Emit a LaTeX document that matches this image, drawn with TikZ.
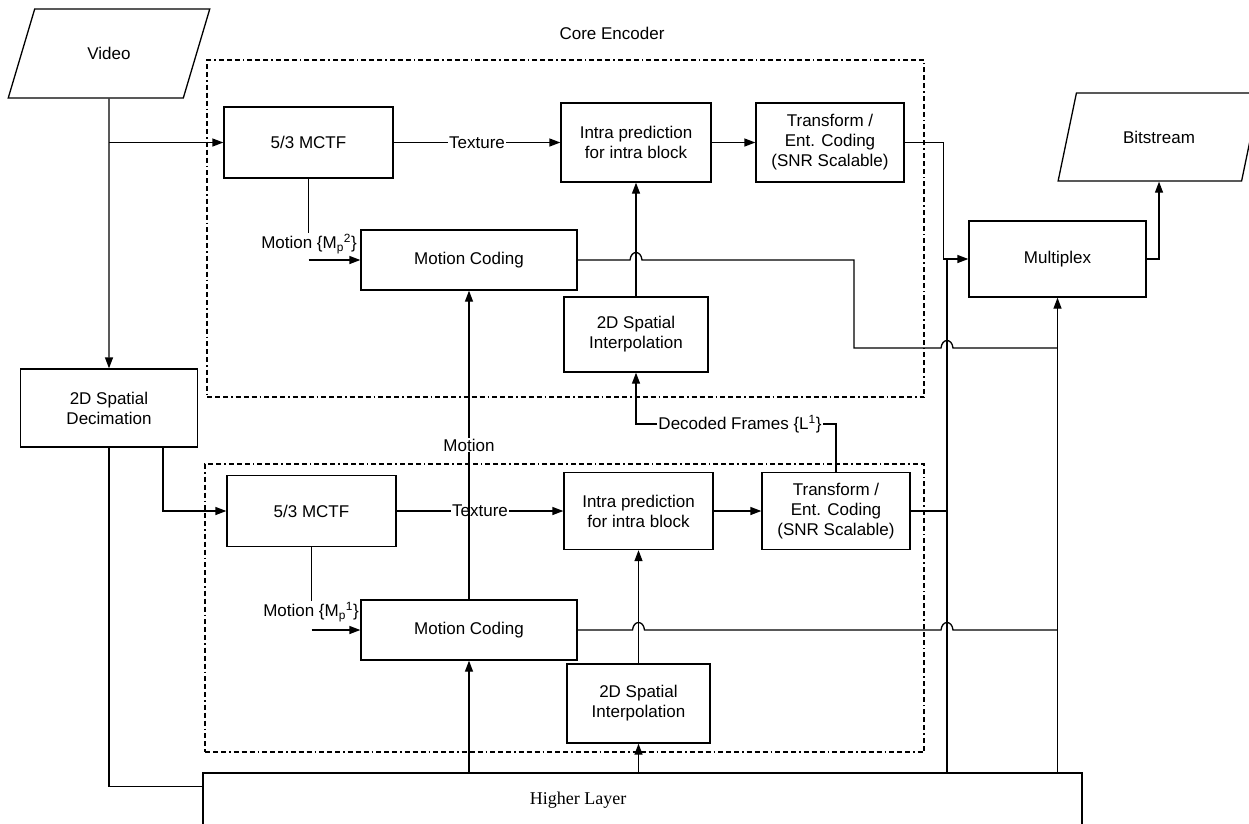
\documentclass[tikz,border=0pt]{standalone}
\usepackage{fontspec}
\setmainfont{Liberation Sans}
\newfontfamily\hlfont{Liberation Serif}
\usetikzlibrary{arrows.meta,positioning,calc,shapes.geometric}
% small bump where a line crosses another
\newcommand{\hop}[2]{-- ({#1-6},#2) .. controls ({#1-5},{#2-10}) and ({#1+5},{#2-10}) .. ({#1+6},#2)}
\tikzset{
  box/.style    = {draw, line width=1.3pt, align=center, inner sep=2pt,
                   font=\fontsize{17}{20}\selectfont},
  io/.style     = {box, trapezium, trapezium left angle=63, trapezium right angle=117,
                   trapezium stretches=true},
  encbox/.style = {draw, line width=1.2pt,
                   dash pattern=on 5pt off 3pt on 5pt off 3pt on 5pt off 3pt on 1.5pt off 3pt},
  ar/.style     = {-{Triangle[length=11pt,width=8pt]}, line width=1.3pt},
  ln/.style     = {line width=1.3pt},
  lbl/.style    = {font=\fontsize{17}{20}\selectfont, fill=white, inner sep=1pt},
}
\begin{document}
\begin{tikzpicture}[x=1pt, y=-1pt]
  \useasboundingbox (0,0) rectangle (1249,823);
  \clip (0,0) rectangle (1249,823);

  % encoder frames
  \node[encbox, minimum width=717pt, minimum height=337pt] (coreA) at (565.5,228.5) {};
  \node[encbox, minimum width=719pt, minimum height=288pt] (coreB) at (564.5,608) {};
  \node[font=\fontsize{17}{20}\selectfont] (coreLbl) at (612,33) {Core Encoder};

  % input / output
  \node[io, minimum width=202pt, minimum height=89pt] (video) at (109,53.5) {Video};
  \node[io, minimum width=202pt, minimum height=88pt] (bits) at (1159,137) {Bitstream};
  \node[box, minimum width=177pt, minimum height=78pt] (decim) at (109,408) {2D Spatial\\Decimation};
  \node[box, minimum width=177pt, minimum height=76pt] (mux) at (1057.5,259) {Multiplex};

  % upper layer
  \node[box, minimum width=169pt, minimum height=71pt] (mctfA) at (308.5,142.5) {5/3 MCTF};
  \node[box, minimum width=150pt, minimum height=79pt] (intraA) at (636,142.5) {Intra prediction\\for intra block};
  \node[box, minimum width=148pt, minimum height=79pt] (transA) at (830,142.5) {Transform /\\Ent. Coding\\(SNR Scalable)};
  \node[box, minimum width=216pt, minimum height=60pt] (mcA) at (469,260) {Motion Coding};
  \node[box, minimum width=144pt, minimum height=75pt] (intpA) at (636,334.5) {2D Spatial\\Interpolation};

  % lower layer
  \node[box, minimum width=169pt, minimum height=71pt] (mctfB) at (311.5,511) {5/3 MCTF};
  \node[box, minimum width=149pt, minimum height=77pt] (intraB) at (638.5,511) {Intra prediction\\for intra block};
  \node[box, minimum width=148pt, minimum height=77pt] (transB) at (836,511) {Transform /\\Ent. Coding\\(SNR Scalable)};
  \node[box, minimum width=216pt, minimum height=60pt] (mcB) at (469,630) {Motion Coding};
  \node[box, minimum width=143pt, minimum height=79pt] (intpB) at (638.5,703.5) {2D Spatial\\Interpolation};

  \node[box, minimum width=879pt, minimum height=67pt] (higher) at (642.5,806.5) {};
  \node[font=\hlfont\fontsize{18}{20}\selectfont] (hlTxt) at (578,800) {Higher Layer};

  \node[lbl, fill=none] (mvA) at (309,244) {Motion \{M\textsubscript{p}\textsuperscript{2}\}};
  \node[lbl, fill=none] (mvB) at (311,612) {Motion \{M\textsubscript{p}\textsuperscript{1}\}};

  \coordinate (busB) at (947,0);

  % video path
  \draw[ar] (video.south) -- (decim.north);
  \draw[ar] (video.south |- mctfA.west) -- (mctfA.west);
  \draw[ln] (decim.south) |- ([yshift=-14pt]higher.north west);
  \draw[ar] ([xshift=54pt]decim.south) |- (mctfB.west);

  % upper layer
  \draw[ar] (mctfA) -- node[lbl]{Texture} (intraA);
  \draw[ar] (intraA) -- (transA);
  \draw[ar] (transA.east) -- ++(39,0) |- (mux.west);
  \draw[ln] (mctfA.south) -- (mctfA.south |- mvA.north);
  \draw[ar] (mctfA.south |- mcA.west) -- (mcA.west);
  \draw[ar] (intpA) -- (intraA);
  \draw[ln] (mcA.east) \hop{636}{260} -- (854,260) -- (854,348) \hop{947}{348} -- (mux.south |- 0,348);

  % lower layer
  \draw[ar] (mctfB) -- node[lbl]{Texture} (intraB);
  \draw[ar] (intraB) -- (transB);
  \draw[ln] (transB.east) -- (transB.east -| busB);
  \draw[ln] (mctfB.south) -- (mctfB.south |- mvB.north);
  \draw[ar] (mctfB.south |- mcB.west) -- (mcB.west);
  \draw[ar] (intpB) -- (intraB);
  \draw[ln] (mcB.east) \hop{638.5}{630} \hop{947}{630} -- (mux.south |- mcB.east);
  \draw[ar] (mcB) -- node[lbl]{Motion} (mcA);
  \draw[ar] (transB.north) -- ++(0,-48) -| node[lbl, pos=0.24]{Decoded Frames \{L\textsuperscript{1}\}} (intpA.south);

  % from higher layer
  \draw[ar] (mcB.south |- higher.north) -- (mcB.south);
  \draw[ar] (intpB.south |- higher.north) -- (intpB.south);
  \draw[ln] (busB |- higher.north) -- (busB |- mux.west);
  \draw[ar] (mux.south |- higher.north) -- (mux.south);

  % output
  \draw[ar] (mux.east) -| (bits.south);
\end{tikzpicture}
\end{document}
